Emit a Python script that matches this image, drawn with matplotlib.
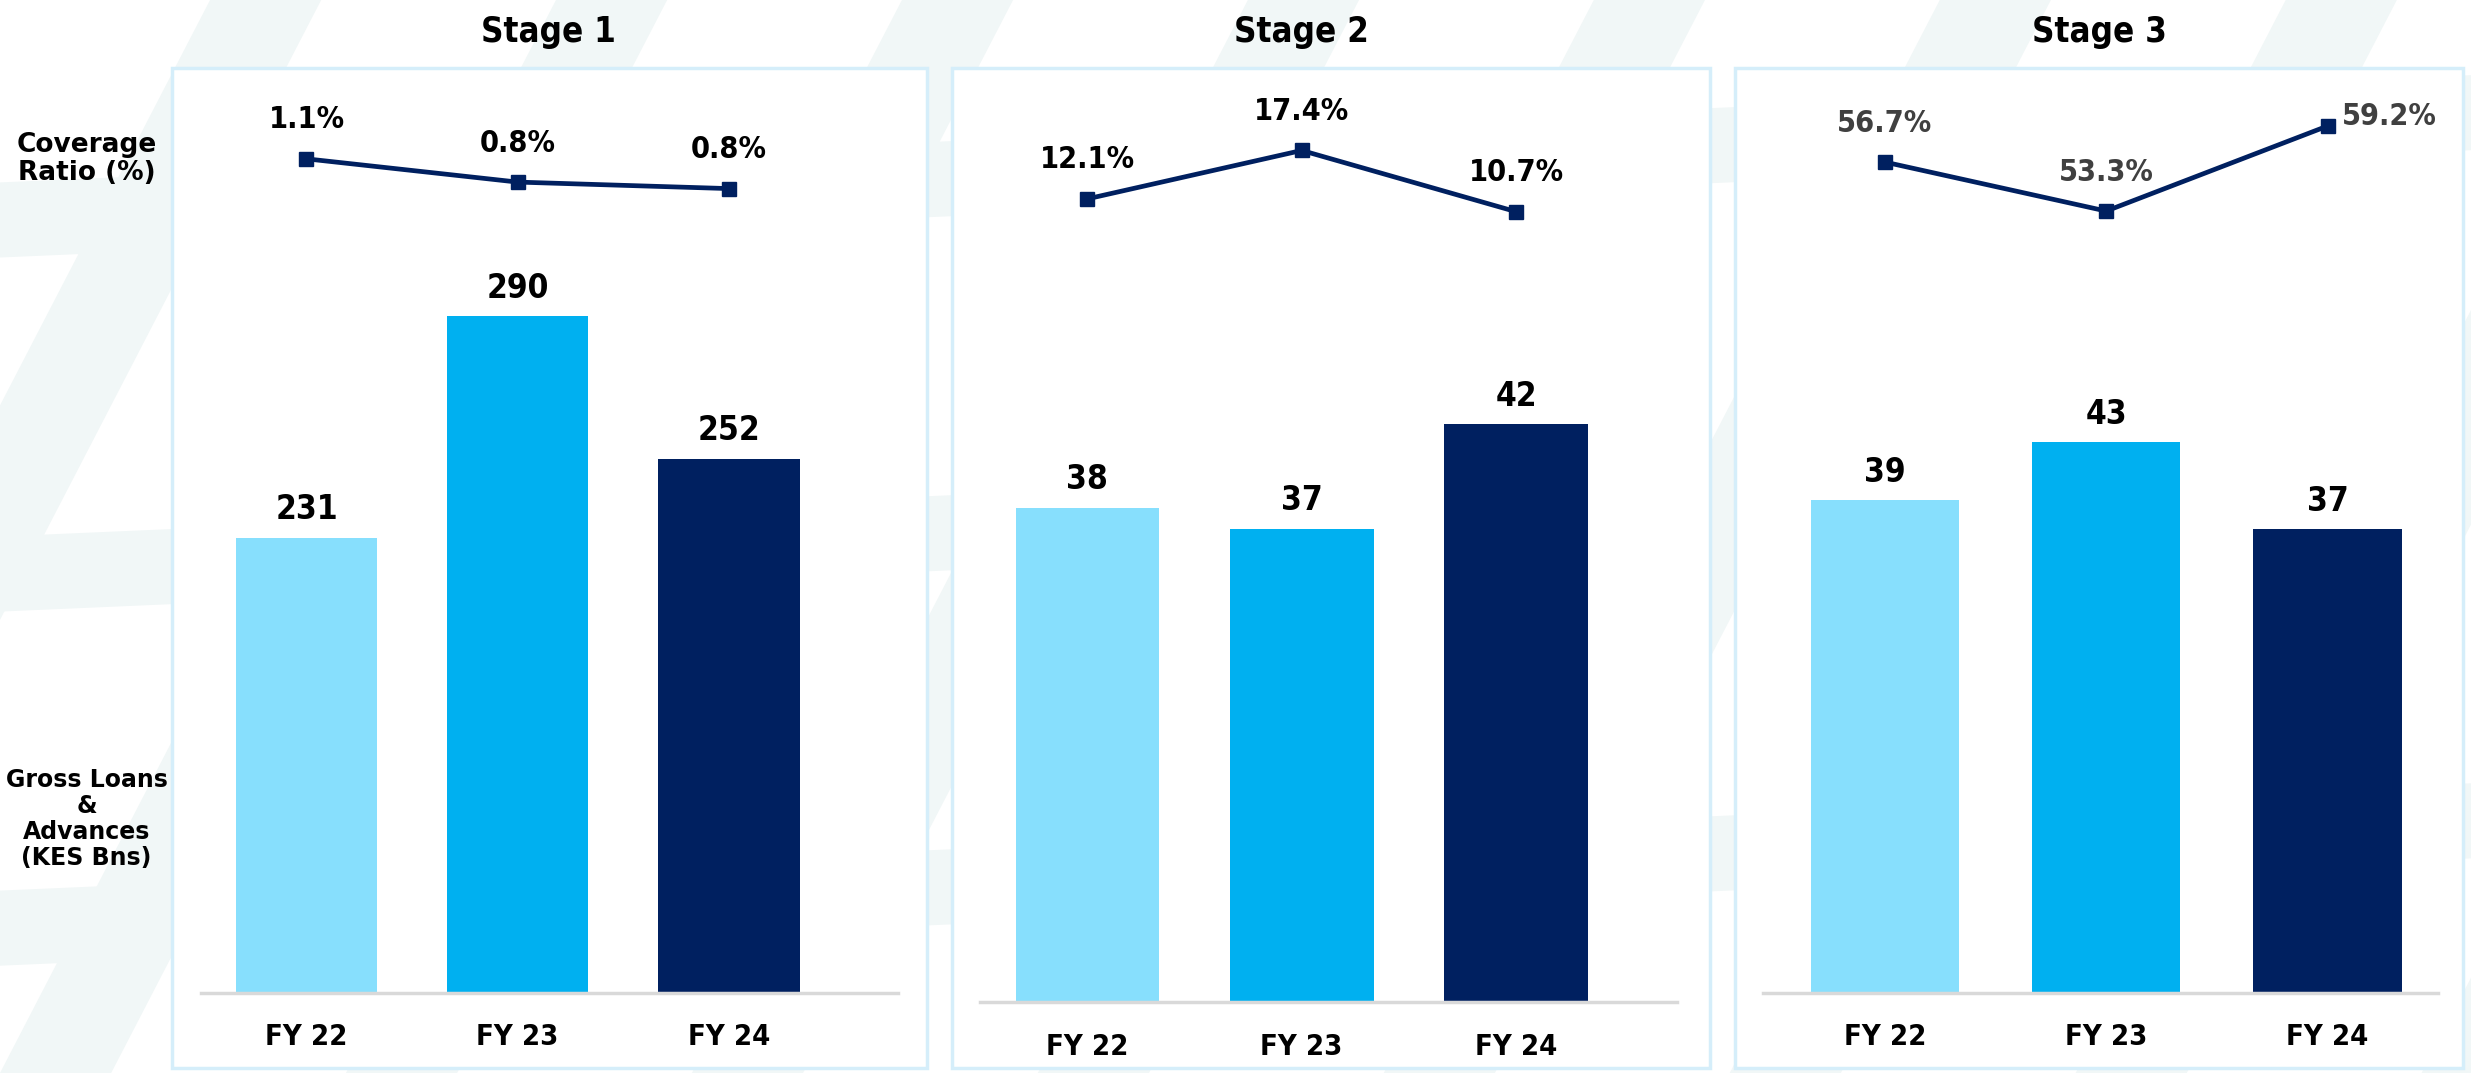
import matplotlib.pyplot as plt
from matplotlib.patches import Polygon, Rectangle

# data
stages = ['Stage 1', 'Stage 2', 'Stage 3']
years = ['FY 22', 'FY 23', 'FY 24']
loans_s1 = [231, 290, 252]
loans_s2 = [38, 37, 42]
loans_s3 = [39, 43, 37]
cover_s1 = [1.08, 0.83, 0.76]
cover_s2 = [12.1, 17.4, 10.7]
cover_s3 = [56.7, 53.3, 59.2]

bar_colors = ['#87DFFD', '#00B0F0', '#002060']
line_color = '#002060'
num_font = ['DejaVu Sans']
side_font = ['DejaVu Sans']

W, H = 1568.0, 681.0  # layout measured on the shrunk reference


def fx(px):
    return px / W


def fy(py):
    return 1 - py / H


fig = plt.figure(figsize=(24.71, 10.73), dpi=100)
fig.patch.set_facecolor('white')

# faint zigzag background pattern
bg = '#f1f7f7'
for i in range(-3, 10):
    x0 = i * 0.14
    fig.patches.append(Polygon([(x0, 0.0), (x0 + 0.045, 0.0), (x0 + 0.27, 1.0), (x0 + 0.225, 1.0)],
                               closed=True, transform=fig.transFigure, facecolor=bg,
                               edgecolor='none', zorder=-5))
for j in range(3):
    y0 = 0.1 + j * 0.33
    fig.patches.append(Polygon([(0.0, y0), (1.0, y0 + 0.1), (1.0, y0 + 0.17), (0.0, y0 + 0.07)],
                               closed=True, transform=fig.transFigure, facecolor=bg,
                               edgecolor='none', zorder=-5))

# panel settings: box (left, right), baseline, bar ylim, line ylim, xlim, title x
panels = [
    dict(loans=loans_s1, cover=cover_s1, box=(109, 588), base=630, ylim=(110, 356),
         lylim=(-7.89, 2.06), xlim=(-0.638, 2.937), tx=348, pct_color='black', spine=(-0.5, 2.8)),
    dict(loans=loans_s2, cover=cover_s2, box=(604, 1085), base=636, ylim=(14.4, 59.0),
         lylim=(-75.8, 26.45), xlim=(-0.632, 2.904), tx=826, pct_color='black', spine=(-0.5, 2.75)),
    dict(loans=loans_s3, cover=cover_s3, box=(1101, 1563), base=630, ylim=(5.2, 68.7),
         lylim=(-0.91, 63.24), xlim=(-0.676, 2.612), tx=1332, pct_color='#404040', spine=(-0.55, 2.5)),
]

box_top, box_bottom = 43, 678

for k, p in enumerate(panels):
    l, r = p['box']
    # white panel with light blue frame
    fig.patches.append(Rectangle((fx(l), fy(box_bottom)), fx(r - l), (box_bottom - box_top) / H,
                                 transform=fig.transFigure, facecolor='white',
                                 edgecolor='#d5eefa', linewidth=2.5, zorder=-1))

    ax = fig.add_axes([fx(l), fy(p['base']), fx(r - l), (p['base'] - box_top) / H])
    ax.patch.set_alpha(0)
    x = range(len(years))
    ax.bar(x, p['loans'], width=0.67, color=bar_colors, zorder=2)
    ax.set_xlim(*p['xlim'])
    ax.set_ylim(*p['ylim'])
    for xi, v in zip(x, p['loans']):
        ax.annotate(f'{v}', (xi, v), xytext=(0, 20), textcoords='offset points',
                    ha='center', va='center', fontsize=24, fontweight='bold',
                    family=num_font, fontstretch='condensed', color='black')
    ax.set_xticks(list(x))
    ax.set_xticklabels(years, fontsize=21, fontweight='bold', family=num_font,
                       fontstretch='condensed')
    ax.tick_params(axis='x', length=0, pad=22)
    ax.set_yticks([])
    for s in ['top', 'right', 'left']:
        ax.spines[s].set_visible(False)
    ax.spines['bottom'].set_color('#d9d9d9')
    ax.spines['bottom'].set_linewidth(2.5)
    ax.spines['bottom'].set_bounds(*p['spine'])

    ax2 = ax.twinx()
    ax2.plot(x, p['cover'], color=line_color, linewidth=3.4, marker='s', markersize=10, zorder=3)
    ax2.set_ylim(*p['lylim'])
    ax2.set_yticks([])
    for s in ['top', 'right', 'left', 'bottom']:
        ax2.spines[s].set_visible(False)
    for i, v in enumerate(p['cover']):
        if k == 2 and i == 2:
            off, ha = (10, 7), 'left'
        else:
            off, ha = (0, 28), 'center'
        ax2.annotate(f'{v:.1f}%', (i, v), xytext=off, textcoords='offset points',
                     ha=ha, va='center', fontsize=22, fontweight='bold',
                     family=num_font, fontstretch='condensed', color=p['pct_color'])

    fig.text(fx(p['tx']), fy(20), stages[k], ha='center', va='center',
             fontsize=25, fontweight='bold', family=num_font, fontstretch='condensed')

fig.text(fx(55), fy(101), 'Coverage\nRatio (%)', ha='center', va='center',
         fontsize=19, fontweight='bold', family=side_font, linespacing=1.1)
fig.text(fx(55), fy(520), 'Gross Loans\n&\nAdvances\n(KES Bns)', ha='center', va='center',
         fontsize=17, fontweight='bold', family=side_font, linespacing=1.1)

fig.savefig('out.png', dpi=100)
